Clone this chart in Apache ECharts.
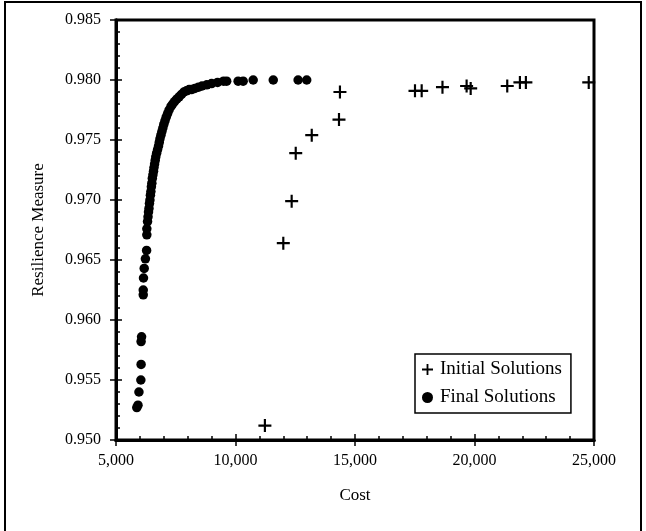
<!DOCTYPE html>
<html>
<head>
<meta charset="utf-8">
<script src="https://cdn.jsdelivr.net/npm/echarts@6/dist/echarts.min.js"></script>
<style>
html,body{margin:0;padding:0;background:#fff;}
#c{width:646px;height:531px;}
</style>
</head>
<body>
<div id="c"></div>
<script>
// Axis ticks
const xTicks = [5000, 10000, 15000, 20000, 25000];
const yTicks = [0.950, 0.955, 0.960, 0.965, 0.970, 0.975, 0.980, 0.985];

// Initial Solutions (+)
const initialCost = [11230, 12000, 12350, 12520, 13190, 14330, 14370, 17510, 17790, 18660, 19670, 19840, 21370, 21900, 22150, 24780];
const initialRes  = [0.9512, 0.9664, 0.9699, 0.9739, 0.9754, 0.9767, 0.9790, 0.9791, 0.9791, 0.9794, 0.9795, 0.9793, 0.9795, 0.9798, 0.9798, 0.9798];

// Final Solutions (dots)
const finalCost = [5870, 5920, 5960, 6040, 6050, 6050, 6070, 6140, 6140, 6150, 6180, 6230, 6280, 6290, 6290, 6320,
  6340, 6360, 6380, 6400, 6420, 6440, 6460, 6480, 6500, 6520, 6545, 6570, 6590, 6615, 6640, 6665, 6700, 6740,
  6780, 6810, 6840, 6880, 6920, 6960, 7000, 7050, 7100, 7160, 7220, 7300, 7370, 7450, 7540, 7640, 7740, 7840,
  7950, 8060, 8160, 8300, 8450, 8600, 8800, 9000, 9250, 9500, 9630, 10110, 10320, 10740, 11580, 12620, 12980];
const finalRes = [0.9527, 0.9529, 0.9540, 0.9550, 0.9563, 0.9582, 0.9586, 0.9621, 0.9625, 0.9635, 0.9643, 0.9651, 0.9658, 0.9671, 0.9676, 0.9682,
  0.9686, 0.9690, 0.9693, 0.9697, 0.9700, 0.9704, 0.9707, 0.9711, 0.9714, 0.9718, 0.9721, 0.9724, 0.9727, 0.9730, 0.9733, 0.9736, 0.9739, 0.9742,
  0.9745, 0.9748, 0.9751, 0.9754, 0.9757, 0.9760, 0.9763, 0.9766, 0.9769, 0.9772, 0.9775, 0.9778, 0.9780, 0.9782, 0.9784, 0.9786, 0.9788, 0.9790,
  0.9791, 0.9792, 0.9792, 0.9793, 0.9794, 0.9795, 0.9796, 0.9797, 0.9798, 0.9799, 0.9799, 0.9799, 0.9799, 0.9800, 0.9800, 0.9800, 0.9800];

const initialData = initialCost.map((c, i) => [c, initialRes[i]]);
const finalData = finalCost.map((c, i) => [c, finalRes[i]]);

const PLUS = 'path://M5,0H7V5H12V7H7V12H5V7H0V5H5Z';
const FONT = 'Liberation Serif';

const chart = echarts.init(document.getElementById('c'), null, {renderer: 'canvas'});

const xBase = {
  type: 'value', min: xTicks[0], max: xTicks[xTicks.length - 1], interval: 5000,
  splitLine: {show: false},
  axisLine: {show: true, lineStyle: {color: '#000', width: 3}}
};
const yBase = {
  type: 'value', min: yTicks[0], max: yTicks[yTicks.length - 1], interval: 0.005,
  splitLine: {show: false},
  axisLine: {show: true, lineStyle: {color: '#000', width: 3}}
};

chart.setOption({
  animation: false,
  backgroundColor: '#fff',
  grid: {left: 116, right: 52, top: 20, bottom: 91, show: true, borderColor: '#000', borderWidth: 3, backgroundColor: 'transparent'},
  graphic: [{
    type: 'rect', shape: {x: 5, y: 2, width: 636, height: 540},
    style: {fill: 'none', stroke: '#000', lineWidth: 2}, silent: true
  }],
  legend: {
    orient: 'vertical', left: 415, top: 354,
    borderColor: '#000', borderWidth: 1.5, padding: [6, 9, 6, 7], itemGap: 9,
    itemWidth: 11, itemHeight: 11,
    textStyle: {fontFamily: FONT, fontSize: 19, color: '#000', padding: [0, 0, 0, 2]},
    data: [
      {name: 'Initial Solutions', icon: PLUS},
      {name: 'Final Solutions', icon: 'circle'}
    ]
  },
  xAxis: [
    Object.assign({}, xBase, {
      name: 'Cost', nameLocation: 'middle', nameGap: 47,
      nameTextStyle: {fontFamily: FONT, fontSize: 17, color: '#000'},
      axisTick: {show: true, inside: false, length: 6, lineStyle: {color: '#000', width: 1.5}},
      axisLabel: {margin: 13, fontFamily: FONT, fontSize: 16, color: '#000',
        formatter: v => v.toLocaleString('en-US')}
    }),
    Object.assign({}, xBase, {
      position: 'bottom',
      axisTick: {show: true, inside: true, length: 6, lineStyle: {color: '#000', width: 1.5}},
      minorTick: {show: true, splitNumber: 5, length: 4, lineStyle: {color: '#000', width: 1.5}},
      axisLabel: {show: false}
    })
  ],
  yAxis: [
    Object.assign({}, yBase, {
      name: 'Resilience Measure', nameLocation: 'middle', nameGap: 69,
      nameTextStyle: {fontFamily: FONT, fontSize: 17, color: '#000'},
      axisTick: {show: true, inside: false, length: 6, lineStyle: {color: '#000', width: 1.5}},
      axisLabel: {margin: 15, fontFamily: FONT, fontSize: 16, color: '#000',
        formatter: v => v.toFixed(3)}
    }),
    Object.assign({}, yBase, {
      position: 'left',
      axisTick: {show: true, inside: true, length: 6, lineStyle: {color: '#000', width: 1.5}},
      minorTick: {show: true, splitNumber: 5, length: 4, lineStyle: {color: '#000', width: 1.5}},
      axisLabel: {show: false}
    })
  ],
  series: [
    {
      name: 'Initial Solutions', type: 'scatter', xAxisIndex: 0, yAxisIndex: 0,
      symbol: PLUS, symbolSize: 13,
      itemStyle: {color: '#000', opacity: 1},
      data: initialData
    },
    {
      name: 'Final Solutions', type: 'scatter', xAxisIndex: 0, yAxisIndex: 0,
      symbol: 'circle', symbolSize: 9.5,
      itemStyle: {color: '#000', opacity: 1},
      data: finalData
    }
  ]
});
</script>
</body>
</html>
